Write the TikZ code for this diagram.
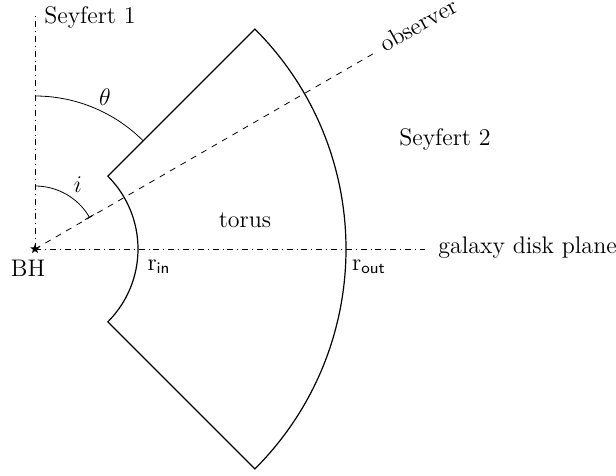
\documentclass[tikz,border=0pt]{standalone}
\usepackage{amsmath}
\usetikzlibrary{arrows.meta, positioning, shapes.geometric, calc}

\begin{document}
\begin{tikzpicture}[
  x=0.5pt, y=0.5pt,
  axis/.style={dash dot, thin},
  sight/.style={dashed, thin},
  torusline/.style={draw, semithick},
  angarc/.style={thin},
  lbl/.style={font=\large, inner sep=1pt}
]
\useasboundingbox (-35,-227) rectangle (581,249);

% Black hole
\node[star, star points=5, star point ratio=2.4, fill, inner sep=0pt, minimum size=5pt] (bh) at (0,0) {};
\coordinate (top) at (0,234);
\coordinate (disk) at (390,0);
\coordinate (obs) at (30:391);

% Axes
\draw[axis] (bh.center) -- (top);
\draw[axis] (bh.center) -- (disk);

% Torus
\draw[torusline] (45:103) -- (45:311) arc (45:-45:311) -- (-45:103) arc (-45:45:103) -- cycle;

% Line of sight
\draw[sight] (bh.center) -- (obs);

% Angles
\draw[angarc] (90:153) arc (90:45:153);
\draw[angarc, -{Bar[width=5pt]}] (90:63) arc (90:30:63);

% Labels
\node[lbl] (sey1) at (55,231) {Seyfert 1};
\node[lbl] (sey2) at (410,109) {Seyfert 2};
\node[lbl] (torus) at (210,29) {torus};
\node[lbl, anchor=base west, rotate=29, inner sep=0pt] (observer) at (29.3:401) {observer};
\node[lbl, anchor=west] (plane) at (401,1) {galaxy disk plane};
\node[lbl] (bhlbl) at (-7,-19) {BH};
\node[lbl] (rin) at (124,-18) {$\mathrm{r}_{\textsf{in}}$};
\node[lbl] (rout) at (334,-18) {$\mathrm{r}_{\textsf{out}}$};
\node[lbl] (theta) at (70,152) {$\theta$};
\node[lbl] (incl) at (43,64) {$i$};

\end{tikzpicture}
\end{document}
